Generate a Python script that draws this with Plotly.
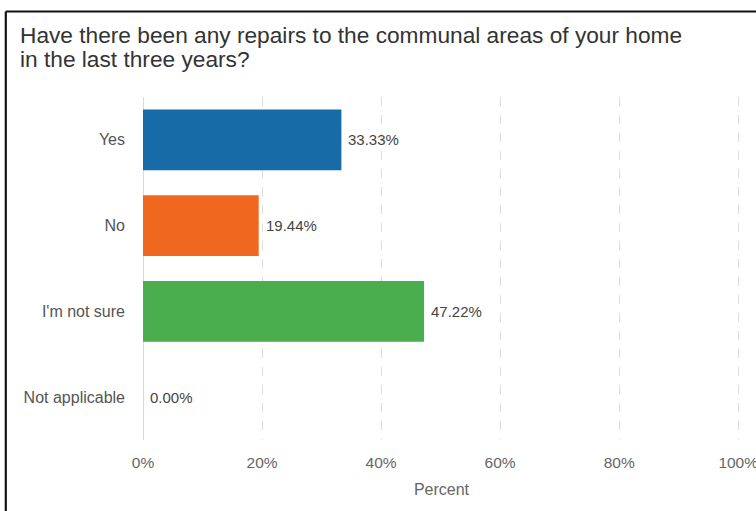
import plotly.graph_objects as go

categories = ["Yes", "No", "I'm not sure", "Not applicable"]
percent = [33.33, 19.44, 47.22, 0.00]
bar_colors = ["#176ba6", "#f0681f", "#4aae4e", "#9e9e9e"]
tick_values = [0, 20, 40, 60, 80, 100]
tick_labels = ["0%", "20%", "40%", "60%", "80%", "100%"]
title_lines = ["Have there been any repairs to the communal areas of your home",
               "in the last three years?"]

W, H = 756, 511
L, R, T, B = 143, 16, 97, 71
pw, ph = W - L - R, H - T - B
FONT = "Liberation Sans, Arial"

def px_x(p):
    return (p - L) / pw

def px_y(p):
    return 1 - (p - T) / ph

fig = go.Figure()
fig.add_trace(go.Bar(
    x=percent,
    y=categories,
    orientation="h",
    marker=dict(color=bar_colors, line=dict(width=0)),
    width=0.71,
    hoverinfo="skip",
))

# value labels just past the end of each bar
for cat, val in zip(categories, percent):
    fig.add_annotation(
        x=val, y=cat, xref="x", yref="y",
        text=f"{val:.2f}%", showarrow=False,
        xanchor="left", xshift=5,
        font=dict(family=FONT, size=15, color="#444444"),
    )

# two-line title, placed line by line for tighter spacing
for i, line in enumerate(title_lines):
    fig.add_annotation(
        x=px_x(18), y=px_y(34.5 + 24.5 * i), xref="paper", yref="paper",
        text=line, showarrow=False, align="left",
        xanchor="left", yanchor="middle",
        font=dict(family=FONT, size=22.7, color="#333333"),
    )

# outer frame (top and left edges)
fig.add_shape(type="line", xref="paper", yref="paper",
              x0=px_x(5.8), x1=px_x(W + 20), y0=px_y(11.5), y1=px_y(11.5),
              line=dict(color="#111111", width=2.2))
fig.add_shape(type="line", xref="paper", yref="paper",
              x0=px_x(5.8), x1=px_x(5.8), y0=px_y(11.5), y1=px_y(H + 20),
              line=dict(color="#111111", width=2.2))

fig.update_layout(
    width=W, height=H,
    margin=dict(l=L, r=R, t=T, b=B, autoexpand=False),
    paper_bgcolor="white", plot_bgcolor="white",
    showlegend=False,
    bargap=0.29,
    xaxis=dict(
        range=[0, 100.3], tickvals=tick_values, ticktext=tick_labels,
        showgrid=True, gridcolor="#dddddd", griddash="dash", gridwidth=1,
        zeroline=True, zerolinecolor="#d5dbe6", zerolinewidth=1,
        showline=False, ticks="", ticklen=0, automargin=False,
        ticklabelstandoff=11, ticklabeloverflow="allow",
        tickfont=dict(family=FONT, size=15.5, color="#666666"),
        title=dict(text="Percent", standoff=14,
                   font=dict(family=FONT, size=16, color="#666666")),
        fixedrange=True,
    ),
    yaxis=dict(
        categoryorder="array", categoryarray=categories, autorange="reversed",
        showgrid=False, zeroline=False, showline=False, ticks="",
        ticklabelstandoff=17, automargin=False,
        tickfont=dict(family=FONT, size=16, color="#555555"),
        fixedrange=True,
    ),
)

fig.write_html("out.html")
